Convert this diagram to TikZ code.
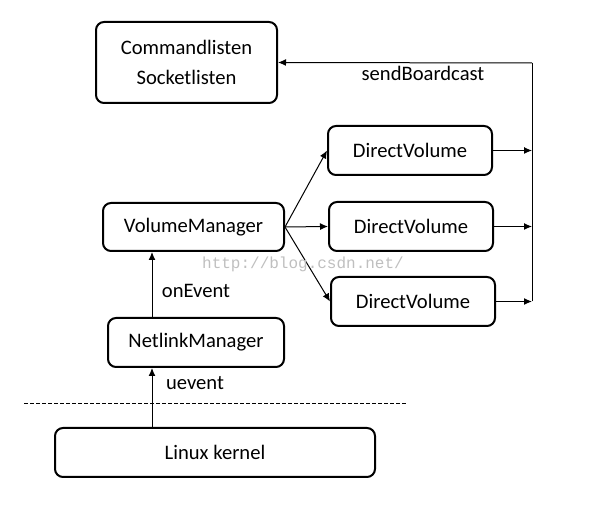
\documentclass[tikz,border=0pt]{standalone}
\usepackage{fontspec}
\setmainfont{Carlito}
\newfontfamily\markfont{Liberation Mono}
\usetikzlibrary{arrows.meta}
\begin{document}
\begin{tikzpicture}[x=0.5pt,y=-0.5pt]
			\tikzstyle{every node}+=[font=\fontsize{10.3}{12.5}\selectfont]
			\tikzstyle{box}=[draw=black, line width=1pt, rounded corners=4pt, inner sep=0pt, align=center]
			\tikzstyle{arr}=[-{Latex[length=4pt,width=3.5pt]}, line width=0.5pt]
			\useasboundingbox (0,0) rectangle (589,506);
			\node [box, minimum width=90.5pt, minimum height=40.5pt] (cmd) at (186.5,62.5) {Commandlisten\\[2.5pt]Socketlisten};
			\node [box, minimum width=82pt, minimum height=24.5pt] (dv1) at (410,150.5) {DirectVolume};
			\node [box, minimum width=82pt, minimum height=24.5pt] (dv2) at (411,226.5) {DirectVolume};
			\node [box, minimum width=82pt, minimum height=24.5pt] (dv3) at (413,301.5) {DirectVolume};
			\node [box, minimum width=90.5pt, minimum height=24pt] (vm) at (193.5,227) {VolumeManager};
			\node [box, minimum width=88pt, minimum height=24.5pt] (nm) at (196,342.5) {NetlinkManager};
			\node [box, minimum width=160pt, minimum height=24.5pt] (lk) at (215,452.5) {Linux kernel};
			\coordinate (bus) at (532,63);
			\coordinate (up) at (152,300);
			\coordinate (dl) at (24,404);
			\coordinate (dr) at (407,404);
			% broadcast back to the listeners
			\draw [line width=0.5pt] (bus |- dv3) -- (bus);
			\draw [arr] (bus) -- (cmd.east);
			\node (sb) at (423,73) {sendBoardcast};
			\draw [arr] (dv1.east) -- (dv1 -| bus);
			\draw [arr] (dv2.east) -- (dv2 -| bus);
			\draw [arr] (dv3.east) -- (dv3 -| bus);
			% manager to volumes
			\draw [arr] (vm.east) -- (dv1.west);
			\draw [arr] (vm.east) -- (dv2.west);
			\draw [arr] (vm.east) -- (dv3.west);
			% events going up
			\draw [arr] (nm.north -| up) -- (vm.south -| up);
			\node (oe) at (196,291) {onEvent};
			\draw [arr] (lk.north -| up) -- (nm.south -| up);
			\node (ue) at (195,383) {uevent};
			\draw [line width=0.5pt, dash pattern=on 2pt off 1pt] (dl) -- (dr);
			\node [text=black!25, font=\markfont\fontsize{8}{9}\selectfont] (wm) at (303,264) {http://blog.csdn.net/};
\end{tikzpicture}
\end{document}
